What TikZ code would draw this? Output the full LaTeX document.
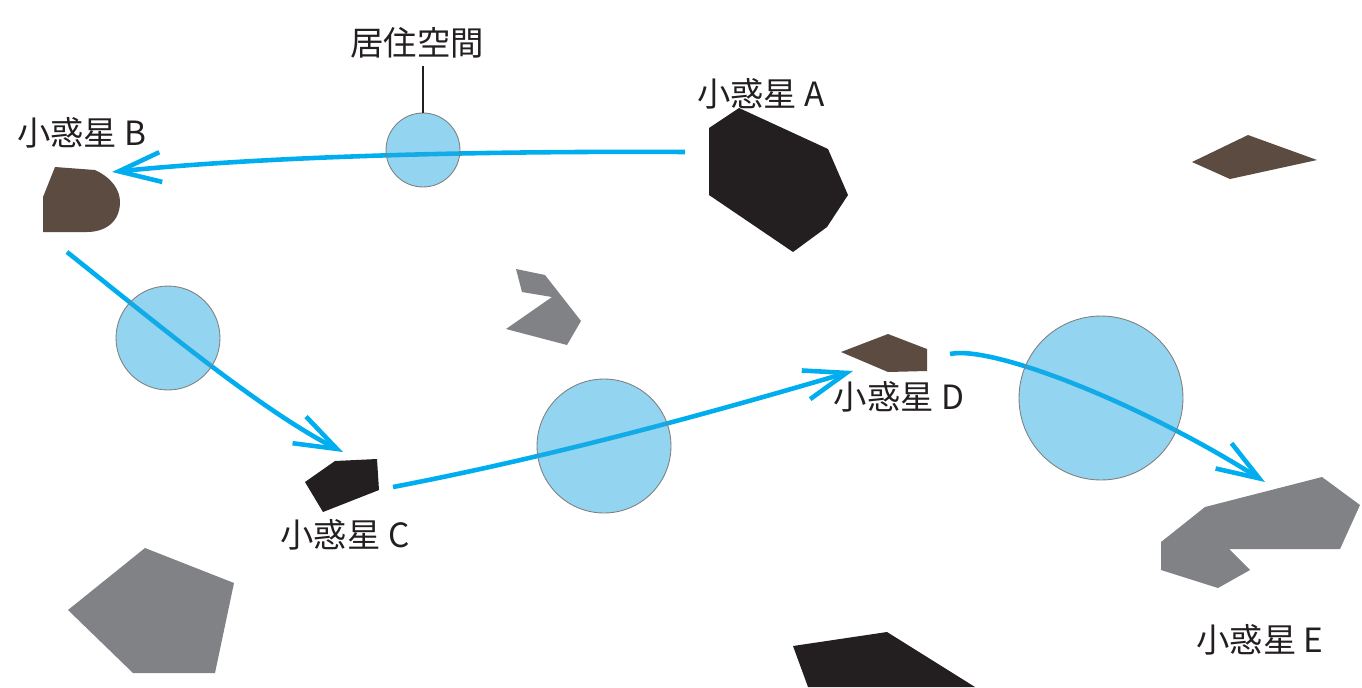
\documentclass[tikz,border=0pt]{standalone}
\usepackage{fontspec}
\newfontfamily\jpfont{Noto Sans CJK JP}
\usepackage{xcolor}
\usepackage{tikz}
\usetikzlibrary{arrows.meta}
\definecolor{rockblack}{HTML}{231F20}
\definecolor{rockbrown}{HTML}{5B4B41}
\definecolor{rockgray}{HTML}{808285}
\definecolor{orbit}{HTML}{00AEEF}
\definecolor{habfill}{HTML}{27AAE1}

\begin{document}
\begin{tikzpicture}[x=0.02cm,y=-0.02cm,
                >={Straight Barb[length=24pt,width=17pt]},
                orbitline/.style = {->, draw=orbit, line width=2.6pt},
                habitat/.style = {draw=gray, line width=0.5pt, circle, inner sep=0pt,
                                  fill=habfill, fill opacity=0.5, draw opacity=1},
                rockname/.style = {font=\jpfont\fontsize{19}{23}\selectfont, text=rockblack, inner sep=0pt}]
            \useasboundingbox (0,0) rectangle (1362,687);
            % Asteroids
            \fill[rockblack] (739,108) -- (828,149) -- (848,195) -- (827,227) -- (793,252) -- (709,195) -- (709,128) -- cycle;
            \fill[rockbrown] (55,167) -- (95,170) .. controls (112,178) and (120,190) .. (120,202)
                .. controls (120,222) and (105,232) .. (87,232) -- (43,232) -- (43,197) -- cycle;
            \fill[rockblack] (335,461) -- (377,459) -- (379,490) -- (323,512) -- (305,482) -- cycle;
            \fill[rockbrown] (841,352) -- (888,334) -- (927,349) -- (927,371) -- (888,372) -- cycle;
            \fill[rockgray] (1205,507) -- (1322,477) -- (1360,505) -- (1340,549) -- (1229,549) -- (1250,570)
                -- (1218,588) -- (1161,570) -- (1161,542) -- cycle;
            \fill[rockgray] (145,548) -- (234,583) -- (215,673) -- (133,673) -- (68,610) -- cycle;
            \fill[rockblack] (793,646) -- (887,632) -- (975,687) -- (808,687) -- cycle;
            \fill[rockgray] (516,269) -- (545,275) -- (581,321) -- (567,345) -- (506,329) -- (552,297) -- (522,292) -- cycle;
            \fill[rockbrown] (1248,135) -- (1317,160) -- (1230,179) -- (1192,162) -- cycle;

            % Labels
            \node[rockname] (nameA) at (761,94) {小惑星 A};
            \node[rockname] (nameB) at (82,133) {小惑星 B};
            \node[rockname] (nameC) at (345,535) {小惑星 C};
            \node[rockname] (nameD) at (899,397) {小惑星 D};
            \node[rockname] (nameE) at (1260,640) {小惑星 E};
            \node[rockname] (habname) at (417,43) {居住空間};

            % Orbit ends
            \coordinate (A0) at (685,152);
            \coordinate (B1) at (112,172);
            \coordinate (B0) at (67,252);
            \coordinate (C1) at (343,452);
            \coordinate (C0) at (393,487);
            \coordinate (D1) at (853,371);
            \coordinate (D0) at (950,354);
            \coordinate (E1) at (1265,482);

            %Edges
            \draw[orbitline] (A0) .. controls (500,151) and (280,155) .. (B1);
            \draw[orbitline] (B0) .. controls (150,318) and (260,410) .. (C1);
            \draw[orbitline] (C0) .. controls (560,455) and (720,410) .. (D1);
            \draw[orbitline] (D0) .. controls (990,345) and (1135,400) .. (E1);

            % Habitats
            \node[habitat, minimum size=1.48cm] (hab0) at (423,150) {};
            \node[habitat, minimum size=2.08cm] (hab1) at (168,338) {};
            \node[habitat, minimum size=2.68cm] (hab2) at (604,446) {};
            \node[habitat, minimum size=3.28cm] (hab3) at (1101,398) {};
            \draw[rockblack, line width=0.8pt] (hab0.north) -- ([yshift=-4pt]hab0.north |- habname.south);
        \end{tikzpicture}
\end{document}
